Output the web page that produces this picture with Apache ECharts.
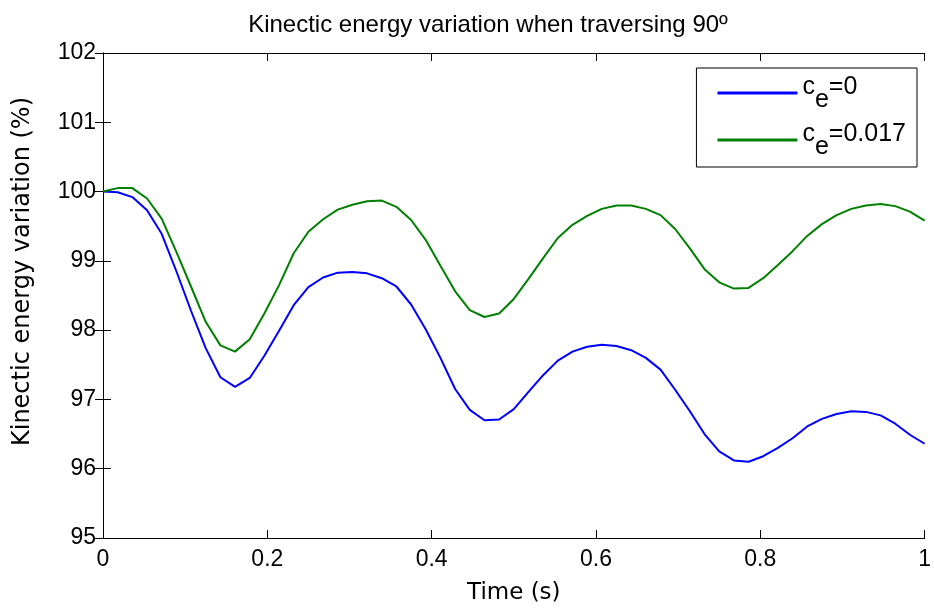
<!DOCTYPE html>
<html>
<head>
<meta charset="utf-8">
<script src="https://cdn.jsdelivr.net/npm/echarts@6/dist/echarts.min.js"></script>
<style>html,body{margin:0;padding:0;background:#fff;overflow:hidden}#c{width:934px;height:613px}</style>
</head>
<body>
<div id="c"></div>
<script>
var times = [0.0000,0.0179,0.0357,0.0536,0.0714,0.0893,0.1071,0.1250,0.1429,0.1607,0.1786,0.1964,0.2143,0.2321,0.2500,0.2679,0.2857,0.3036,0.3214,0.3393,0.3571,0.3750,0.3929,0.4107,0.4286,0.4464,0.4643,0.4821,0.5000,0.5179,0.5357,0.5536,0.5714,0.5893,0.6071,0.6250,0.6429,0.6607,0.6786,0.6964,0.7143,0.7321,0.7500,0.7679,0.7857,0.8036,0.8214,0.8393,0.8571,0.8750,0.8929,0.9107,0.9286,0.9464,0.9643,0.9821,1.0000];
var ce0 = [100.00,99.99,99.92,99.73,99.39,98.85,98.28,97.74,97.32,97.18,97.31,97.63,97.99,98.36,98.62,98.76,98.83,98.84,98.82,98.75,98.63,98.37,98.01,97.60,97.15,96.85,96.70,96.71,96.86,97.11,97.35,97.56,97.69,97.76,97.79,97.77,97.71,97.60,97.43,97.14,96.83,96.50,96.25,96.12,96.10,96.18,96.30,96.44,96.61,96.72,96.79,96.83,96.82,96.77,96.65,96.49,96.36];
var ce017 = [100.00,100.05,100.05,99.90,99.61,99.13,98.63,98.12,97.78,97.69,97.87,98.24,98.65,99.11,99.42,99.60,99.74,99.81,99.86,99.87,99.78,99.59,99.30,98.93,98.56,98.29,98.19,98.24,98.45,98.74,99.04,99.33,99.52,99.65,99.75,99.80,99.80,99.75,99.66,99.46,99.18,98.88,98.69,98.60,98.61,98.75,98.94,99.14,99.36,99.53,99.66,99.75,99.80,99.82,99.79,99.71,99.58];
var xTickLabels = {0:'0',0.2:'0.2',0.4:'0.4',0.6:'0.6',0.8:'0.8',1:'1'};
var titleText = 'Kinectic energy variation when traversing 90º';
var xName = 'Time (s)';
var yName = 'Kinectic energy variation (%)';

function pairs(xs, ys){ return xs.map(function(x,i){ return [x, ys[i]]; }); }

var FONT = 'Liberation Sans, Arial, sans-serif';
var NFONT = 'DejaVu Sans, Liberation Sans, sans-serif';
var chart = echarts.init(document.getElementById('c'), null, {renderer:'canvas', width:934, height:613});
var axisLineStyle = {show:true, lineStyle:{color:'#000', width:1}};
chart.setOption({
  animation:false,
  backgroundColor:'#fff',
  title:{text:titleText, left:483, textAlign:'center', top:8,
    textStyle:{fontFamily:FONT, fontWeight:'normal', fontSize:24, color:'#000'}},
  grid:{left:103, right:5, top:53, bottom:75, containLabel:false},
  legend:{
    orient:'vertical', right:17, top:68,
    backgroundColor:'#fff', borderColor:'#000', borderWidth:1,
    padding:[7,11,7,21], itemGap:9,
    itemWidth:80, itemHeight:3, icon:'rect',
    data:['ce0','ce017'],
    formatter:function(n){ return n==='ce0' ? '{n|c}{s|e}{n|=0}' : '{n|c}{s|e}{n|=0.017}'; },
    textStyle:{fontFamily:FONT, fontSize:25, color:'#000',
      rich:{n:{fontFamily:FONT, fontSize:25, color:'#000', lineHeight:36, verticalAlign:'top', padding:[0,0,0,0]},
            s:{fontFamily:FONT, fontSize:25, color:'#000', lineHeight:36, verticalAlign:'top', padding:[13,0,0,0]}}}
  },
  xAxis:[{type:'value', min:0, max:1, interval:0.2, position:'bottom',
    name:xName, nameLocation:'middle', nameGap:44,
    nameTextStyle:{fontFamily:NFONT, fontSize:23, color:'#000'},
    axisLine:axisLineStyle,
    axisTick:{show:true, inside:true, length:8, lineStyle:{color:'#000'}},
    axisLabel:{fontFamily:FONT, fontSize:23, color:'#000', margin:10,
      formatter:function(v){ var k=Math.round(v*10)/10; return xTickLabels[k]!==undefined?xTickLabels[k]:String(k);} },
    splitLine:{show:false}},
   {type:'value', min:0, max:1, interval:0.2, position:'top',
    axisLine:axisLineStyle, axisTick:{show:true, inside:true, length:8, lineStyle:{color:'#000'}},
    axisLabel:{show:false}, splitLine:{show:false}}],
  yAxis:[{type:'value', min:95, max:102, interval:1, position:'left',
    name:yName, nameLocation:'middle', nameGap:68, nameRotate:90,
    nameTextStyle:{fontFamily:NFONT, fontSize:24, color:'#000', padding:[0,0,0,48]},
    axisLine:axisLineStyle,
    axisTick:{show:true, inside:true, length:8, lineStyle:{color:'#000'}},
    axisLabel:{fontFamily:FONT, fontSize:23, color:'#000', margin:7},
    splitLine:{show:false}},
   {type:'value', min:95, max:102, interval:1, position:'right',
    axisLine:axisLineStyle, axisTick:{show:true, inside:true, length:8, lineStyle:{color:'#000'}},
    axisLabel:{show:false}, splitLine:{show:false}}],
  series:[
    {name:'ce0', type:'line', xAxisIndex:0, yAxisIndex:0, data:pairs(times, ce0),
      showSymbol:false, symbol:'none', lineStyle:{color:'#0000ff', width:2}, itemStyle:{color:'#0000ff'}},
    {name:'ce017', type:'line', xAxisIndex:0, yAxisIndex:0, data:pairs(times, ce017),
      showSymbol:false, symbol:'none', lineStyle:{color:'#008000', width:2}, itemStyle:{color:'#008000'}}
  ]
});
</script>
</body>
</html>
